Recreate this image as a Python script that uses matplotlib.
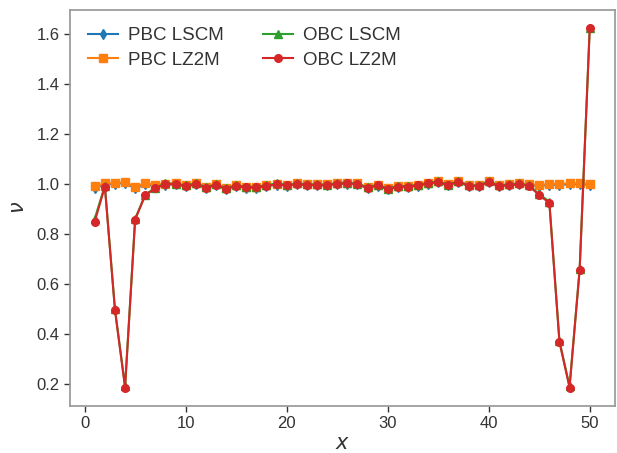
import matplotlib
matplotlib.use("Agg")
import matplotlib.pyplot as plt
import numpy as np

plt.rcParams['font.family'] = ['Liberation Sans', 'DejaVu Sans']
plt.rcParams['mathtext.fontset'] = 'dejavusans'

# chain sites
x = np.arange(1, 51)

# OBC LZ2M (red)
obc_lz2m = [0.850, 0.990, 0.495, 0.185, 0.858, 0.956, 0.983, 1.000, 1.000, 0.992,
            1.000, 0.986, 0.996, 0.982, 0.993, 0.987, 0.987, 0.993, 0.999, 0.995,
            1.000, 0.997, 0.996, 0.996, 1.002, 1.003, 1.000, 0.985, 0.995, 0.980,
            0.990, 0.990, 0.995, 1.003, 1.008, 0.996, 1.010, 0.993, 0.993, 1.008,
            0.993, 0.996, 1.000, 0.992, 0.956, 0.925, 0.367, 0.185, 0.656, 1.625]

# OBC LSCM (green)
obc_lscm = [0.862, 0.994, 0.500, 0.190, 0.862, 0.958, 0.986, 1.003, 1.002, 0.995,
            1.004, 0.988, 0.999, 0.984, 0.996, 0.989, 0.990, 0.995, 1.003, 0.997,
            1.003, 1.000, 0.999, 0.998, 1.005, 1.006, 1.002, 0.987, 0.998, 0.982,
            0.993, 0.992, 0.998, 1.006, 1.011, 0.998, 1.013, 0.995, 0.996, 1.011,
            0.995, 0.999, 1.003, 0.995, 0.960, 0.930, 0.372, 0.190, 0.660, 1.628]

# PBC LZ2M (orange)
pbc_lz2m = [0.992, 1.003, 1.005, 1.008, 0.990, 1.003, 0.998, 1.002, 1.003, 0.995,
            1.003, 0.989, 1.000, 0.985, 0.996, 0.990, 0.990, 0.996, 1.002, 0.998,
            1.003, 1.000, 0.999, 0.999, 1.005, 1.006, 1.003, 0.988, 0.998, 0.983,
            0.993, 0.993, 0.998, 1.006, 1.011, 0.999, 1.013, 0.996, 0.996, 1.011,
            0.996, 0.999, 1.003, 1.000, 0.997, 1.000, 1.002, 1.003, 1.004, 1.002]

# PBC LSCM (blue)
pbc_lscm = [0.985, 0.998, 1.002, 1.004, 0.984, 0.999, 0.992, 0.998, 0.999, 0.991,
            0.999, 0.985, 0.996, 0.980, 0.992, 0.985, 0.986, 0.992, 0.998, 0.994,
            0.999, 0.996, 0.995, 0.995, 1.001, 1.002, 0.999, 0.984, 0.994, 0.979,
            0.989, 0.989, 0.994, 1.002, 1.007, 0.995, 1.009, 0.992, 0.992, 1.007,
            0.992, 0.995, 0.999, 0.996, 0.993, 0.996, 0.998, 0.999, 1.000, 0.998]

fig = plt.figure(figsize=(6.17, 4.53), dpi=100)
ax = fig.add_axes([70/617, 1 - 405.5/453, (614.5 - 70)/617, (405.5 - 9.5)/453])

ax.plot(x, pbc_lscm, marker='d', markersize=5.5, color='C0', label='PBC LSCM')
ax.plot(x, pbc_lz2m, marker='s', markersize=5.5, color='C1', label='PBC LZ2M')
ax.plot(x, obc_lscm, marker='^', markersize=5.5, color='C2', label='OBC LSCM')
ax.plot(x, obc_lz2m, marker='o', markersize=5.5, color='C3', label='OBC LZ2M')

ax.set_xlabel('$x$', fontsize=15, color='#333333', labelpad=2)
ax.set_ylabel(r'$\nu$', fontsize=15, color='#333333', labelpad=6)

for s in ax.spines.values():
    s.set_color('#999999')
    s.set_linewidth(1.25)
ax.tick_params(labelsize=12, colors='#333333', length=4, width=1)

ax.legend(ncol=2, frameon=False, fontsize=13.5, loc='upper left',
          handlelength=1.6, handletextpad=0.53, columnspacing=2.1,
          labelspacing=0.38, borderaxespad=0.55, labelcolor='#333333')

fig.savefig('out.png', dpi=100)
